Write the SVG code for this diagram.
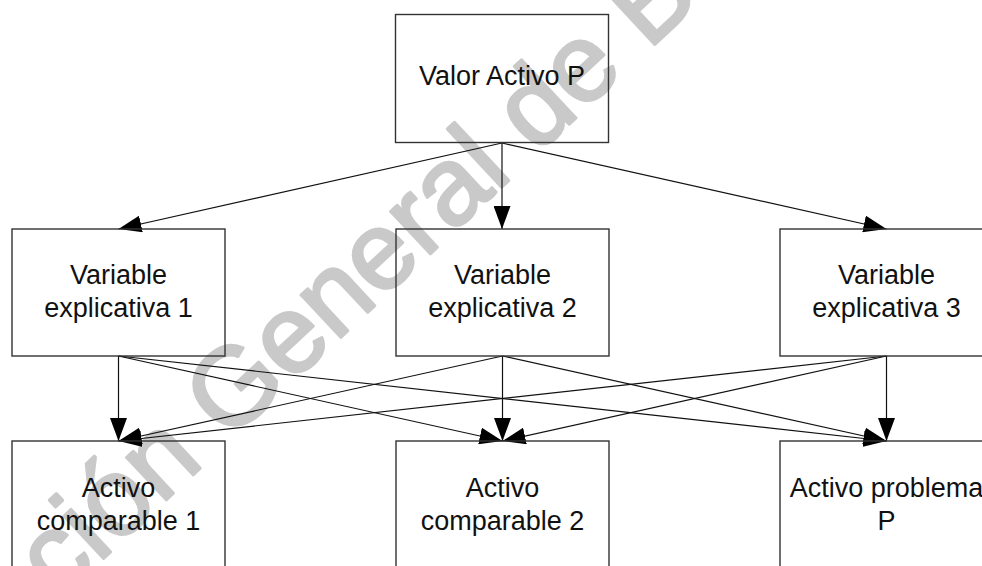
<svg xmlns="http://www.w3.org/2000/svg" width="982" height="566" viewBox="0 0 982 566">
<style>
.box{fill:none;stroke:#333;stroke-width:1.4}
.lbl{font-family:"Liberation Sans",Arial,sans-serif;font-size:27px;fill:#111;text-anchor:middle}
.edge{fill:none;stroke:#111;stroke-width:1.2;marker-end:url(#arr)}
.wm{font-family:"Liberation Sans",Arial,sans-serif;font-size:110px;fill:#c9c9c9;stroke:#c9c9c9;stroke-width:3;stroke-linejoin:round}
</style>
<defs>
<marker id="arr" viewBox="0 0 23 17" refX="23" refY="8.5" markerWidth="23" markerHeight="17" markerUnits="userSpaceOnUse" orient="auto">
<path d="M0,0 L23,8.5 L0,17 z" fill="#000"/>
</marker>
</defs>
<rect width="982" height="566" fill="#fff"/>
<text class="wm" transform="translate(58,601) rotate(-43)">ción General de B</text>
<g id="connectors">
<line class="edge" x1="502" y1="143" x2="118.5" y2="229"/>
<line class="edge" x1="502" y1="143" x2="502" y2="229"/>
<line class="edge" x1="502" y1="143" x2="886.5" y2="229"/>
<line class="edge" x1="118.5" y1="356" x2="118.5" y2="441"/>
<line class="edge" x1="118.5" y1="356" x2="502.5" y2="441"/>
<line class="edge" x1="118.5" y1="356" x2="886.5" y2="441"/>
<line class="edge" x1="502.5" y1="356" x2="118.5" y2="441"/>
<line class="edge" x1="502.5" y1="356" x2="502.5" y2="441"/>
<line class="edge" x1="502.5" y1="356" x2="886.5" y2="441"/>
<line class="edge" x1="886.5" y1="356" x2="118.5" y2="441"/>
<line class="edge" x1="886.5" y1="356" x2="502.5" y2="441"/>
<line class="edge" x1="886.5" y1="356" x2="886.5" y2="441"/>
</g>
<g id="valor-activo-p">
<rect class="box" x="395.5" y="14.5" width="213" height="128"/>
<text class="lbl" x="502" y="85">Valor Activo P</text>
</g>
<g id="variable-1">
<rect class="box" x="12" y="229" width="213" height="127"/>
<text class="lbl" x="118.5" y="284">Variable</text>
<text class="lbl" x="118.5" y="317">explicativa 1</text>
</g>
<g id="variable-2">
<rect class="box" x="396" y="229" width="213" height="127"/>
<text class="lbl" x="502.5" y="284">Variable</text>
<text class="lbl" x="502.5" y="317">explicativa 2</text>
</g>
<g id="variable-3">
<rect class="box" x="780" y="229" width="213" height="127"/>
<text class="lbl" x="886.5" y="284">Variable</text>
<text class="lbl" x="886.5" y="317">explicativa 3</text>
</g>
<g id="comparable-1">
<rect class="box" x="12" y="441" width="213" height="140"/>
<text class="lbl" x="118.5" y="497">Activo</text>
<text class="lbl" x="118.5" y="530">comparable 1</text>
</g>
<g id="comparable-2">
<rect class="box" x="396" y="441" width="213" height="140"/>
<text class="lbl" x="502.5" y="497">Activo</text>
<text class="lbl" x="502.5" y="530">comparable 2</text>
</g>
<g id="problema">
<rect class="box" x="780" y="441" width="213" height="140"/>
<text class="lbl" x="886.5" y="497">Activo problema</text>
<text class="lbl" x="886.5" y="530">P</text>
</g>
</svg>
